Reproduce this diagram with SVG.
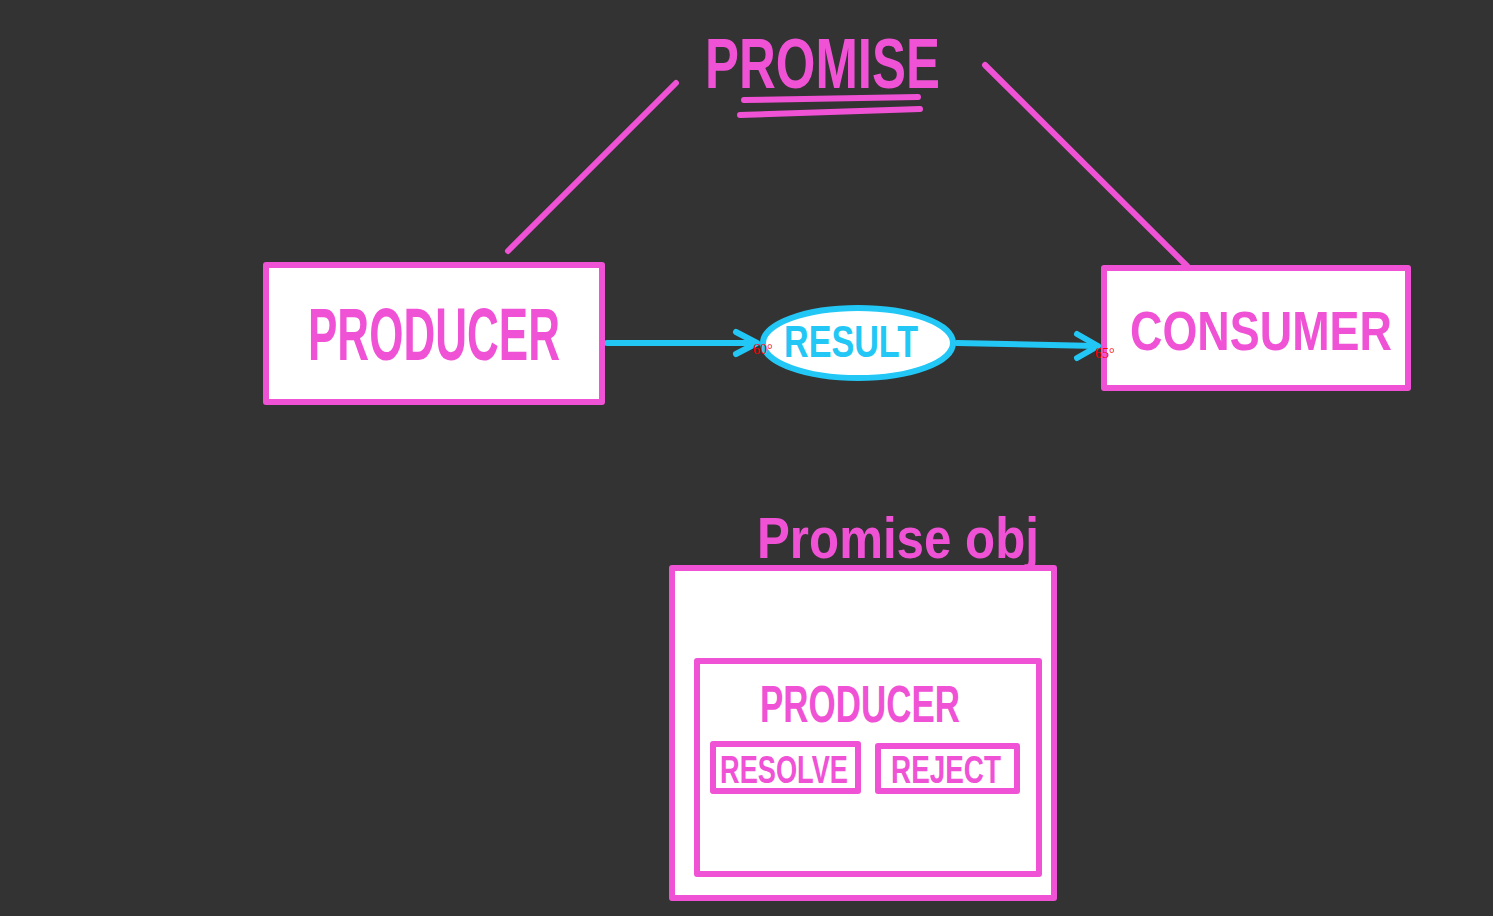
<svg xmlns="http://www.w3.org/2000/svg" width="1493" height="916" viewBox="0 0 1493 916">
<defs>
<style>
.pk{fill:none;stroke:#f052d6;stroke-width:6;stroke-linecap:round;stroke-linejoin:round}
.box{fill:#ffffff;stroke:#f052d6;stroke-width:6;stroke-linejoin:round}
.bl{fill:none;stroke:#22c7f5;stroke-width:6;stroke-linecap:round;stroke-linejoin:round}
.t{font-family:"Liberation Sans Narrow","Liberation Sans",Arial,sans-serif;fill:#f052d6;font-weight:bold}
.deg{font-family:"Liberation Serif",serif;fill:#ff0000;font-size:14px}
</style>
</defs>
<rect width="1493" height="916" fill="#333333"/>
<g id="title">
<text class="t" x="705" y="88" font-size="70" textLength="235" lengthAdjust="spacingAndGlyphs">PROMISE</text>
<path class="pk" d="M744,100 L918,97"/>
<path class="pk" d="M740,115 L920,109"/>
</g>
<g id="connectors">
<path class="pk" d="M676,83 L508,251"/>
<path class="pk" d="M985,65 L1187,266"/>
<path d="M607,343 L756,343" fill="none" stroke="#22c7f5" stroke-width="6" stroke-linecap="round"/>
<path d="M736,332 L757,343 L736,354" class="bl"/>
<path d="M957,343 L1097,346" fill="none" stroke="#22c7f5" stroke-width="6" stroke-linecap="round"/>
<path d="M1077,334 L1098,346 L1077,358" class="bl"/>
</g>
<g id="producer">
<rect class="box" x="266" y="265" width="336" height="137"/>
<text class="t" x="308" y="360" font-size="74" textLength="252" lengthAdjust="spacingAndGlyphs">PRODUCER</text>
</g>
<g id="result">
<ellipse cx="858" cy="343" rx="95" ry="35" fill="#ffffff" stroke="#22c7f5" stroke-width="6"/>
<text x="784" y="357" font-family="'Liberation Sans Narrow','Liberation Sans',Arial,sans-serif" font-weight="bold" font-size="44" fill="#22c7f5" textLength="134" lengthAdjust="spacingAndGlyphs">RESULT</text>
<text class="deg" x="753" y="354">60°</text>
</g>
<g id="consumer">
<rect class="box" x="1104" y="268" width="304" height="120"/>
<text class="t" x="1130" y="350" font-size="56" textLength="262" lengthAdjust="spacingAndGlyphs">CONSUMER</text>
<text class="deg" x="1095" y="358">65°</text>
</g>
<g id="promise-obj">
<text class="t" x="757" y="558" font-size="58" textLength="282" lengthAdjust="spacingAndGlyphs" font-weight="normal">Promise obj</text>
<rect class="box" x="672" y="568" width="382" height="330"/>
<g id="inner-producer">
<rect class="box" x="697" y="661" width="342" height="213"/>
<text class="t" x="760" y="722" font-size="52" textLength="200" lengthAdjust="spacingAndGlyphs">PRODUCER</text>
</g>
<g id="resolve">
<rect class="box" x="713" y="744" width="145" height="47" stroke-width="5"/>
<text class="t" x="720" y="783" font-size="38" textLength="128" lengthAdjust="spacingAndGlyphs">RESOLVE</text>
</g>
<g id="reject">
<rect class="box" x="878" y="746" width="139" height="45" stroke-width="5"/>
<text class="t" x="891" y="783" font-size="38" textLength="110" lengthAdjust="spacingAndGlyphs">REJECT</text>
</g>
</g>
</svg>
